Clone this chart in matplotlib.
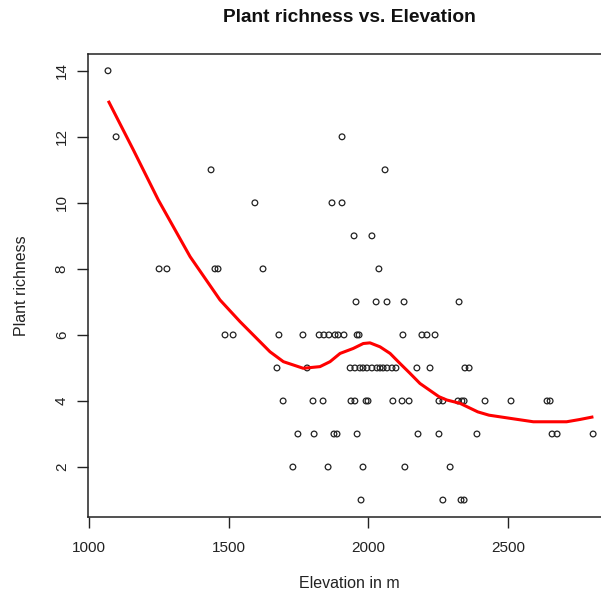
import matplotlib
matplotlib.use("Agg")
import matplotlib.pyplot as plt

plt.rcParams['font.family'] = ['Liberation Sans', 'DejaVu Sans']

# Observed points (elevation in m, plant richness)
elevation = [
    1068,
    1097, 1906,
    1437, 2060,
    1594, 1870, 1906,
    1949, 2013,
    1251, 1279, 1451, 1462, 1623, 2038,
    1956, 2028, 2067, 2128, 2325,
    1487, 1516, 1680, 1766, 1824, 1841, 1859, 1881, 1892, 1913, 1960, 1967, 2124, 2192, 2210, 2239,
    1673, 1781, 1935, 1952, 1970, 1981, 1995, 2013, 2031, 2042, 2053, 2067, 2085, 2099, 2174, 2221, 2346, 2361,
    1695, 1802, 1838, 1938, 1952, 1992, 1999, 2088, 2121, 2146, 2253, 2267, 2321, 2335, 2343, 2418, 2511, 2640, 2651,
    1748, 1806, 1877, 1888, 1960, 2178, 2253, 2389, 2658, 2676, 2805,
    1730, 1856, 1981, 2131, 2293,
    1974, 2267, 2332, 2343,
]
richness = (
    [14]
    + [12] * 2
    + [11] * 2
    + [10] * 3
    + [9] * 2
    + [8] * 6
    + [7] * 5
    + [6] * 16
    + [5] * 18
    + [4] * 19
    + [3] * 11
    + [2] * 5
    + [1] * 4
)

# Smoothed trend line
curve_x = [1069, 1159, 1248, 1362, 1469, 1541, 1648, 1696, 1767, 1827, 1863, 1899, 1946,
           1982, 2006, 2042, 2078, 2113, 2149, 2185, 2253, 2281, 2328, 2392, 2432, 2511,
           2591, 2710, 2758, 2806]
curve_y = [13.09, 11.6, 10.09, 8.37, 7.06, 6.40, 5.49, 5.19, 4.99, 5.04, 5.19, 5.44, 5.59,
           5.74, 5.76, 5.64, 5.44, 5.14, 4.84, 4.53, 4.13, 4.03, 3.93, 3.67, 3.57, 3.47,
           3.37, 3.37, 3.44, 3.52]

x_ticks = [1000, 1500, 2000, 2500]
y_ticks = [2, 4, 6, 8, 10, 12, 14]

W, H = 601, 596
fig = plt.figure(figsize=(W / 100, H / 100), dpi=100)
left_px, right_px, top_px, bottom_px = 88.3, 611.0, 53.6, 517.2
ax = fig.add_axes([left_px / W, (H - bottom_px) / H,
                   (right_px - left_px) / W, (bottom_px - top_px) / H])

ax.scatter(elevation, richness, s=17, facecolors='none', edgecolors='#222222',
           linewidths=0.9, zorder=2)
ax.plot(curve_x, curve_y, color='#ff0000', linewidth=2.2, zorder=3,
        solid_capstyle='butt', solid_joinstyle='round')

ax.set_xlim(997.5, 2869)
ax.set_ylim(0.48, 14.52)
ax.set_xticks(x_ticks)
ax.set_yticks(y_ticks)
ax.tick_params(axis='both', direction='out', length=8, width=1.0, color='#222222',
               labelsize=11, labelcolor='#222222')
ax.tick_params(axis='x', pad=9)
ax.tick_params(axis='y', pad=6)
for lab in ax.get_yticklabels():
    lab.set_rotation(90)
    lab.set_va('center')
for sp in ax.spines.values():
    sp.set_linewidth(1.1)
    sp.set_color('#222222')

ax.set_xlabel('Elevation in m', fontsize=11.5, color='#222222', va='center')
ax.xaxis.set_label_coords(0.5, (bottom_px - 583) / (bottom_px - top_px))
ax.set_ylabel('Plant richness', fontsize=11.5, color='#222222', va='center')
ax.yaxis.set_label_coords((21.7 - left_px) / (right_px - left_px), 0.5)

fig.text((left_px + right_px) / 2 / W, 1 - 18 / H, 'Plant richness vs. Elevation',
         ha='center', va='center', fontsize=13.8, fontweight='bold', color='#111111')

fig.savefig('out.png', dpi=100)
